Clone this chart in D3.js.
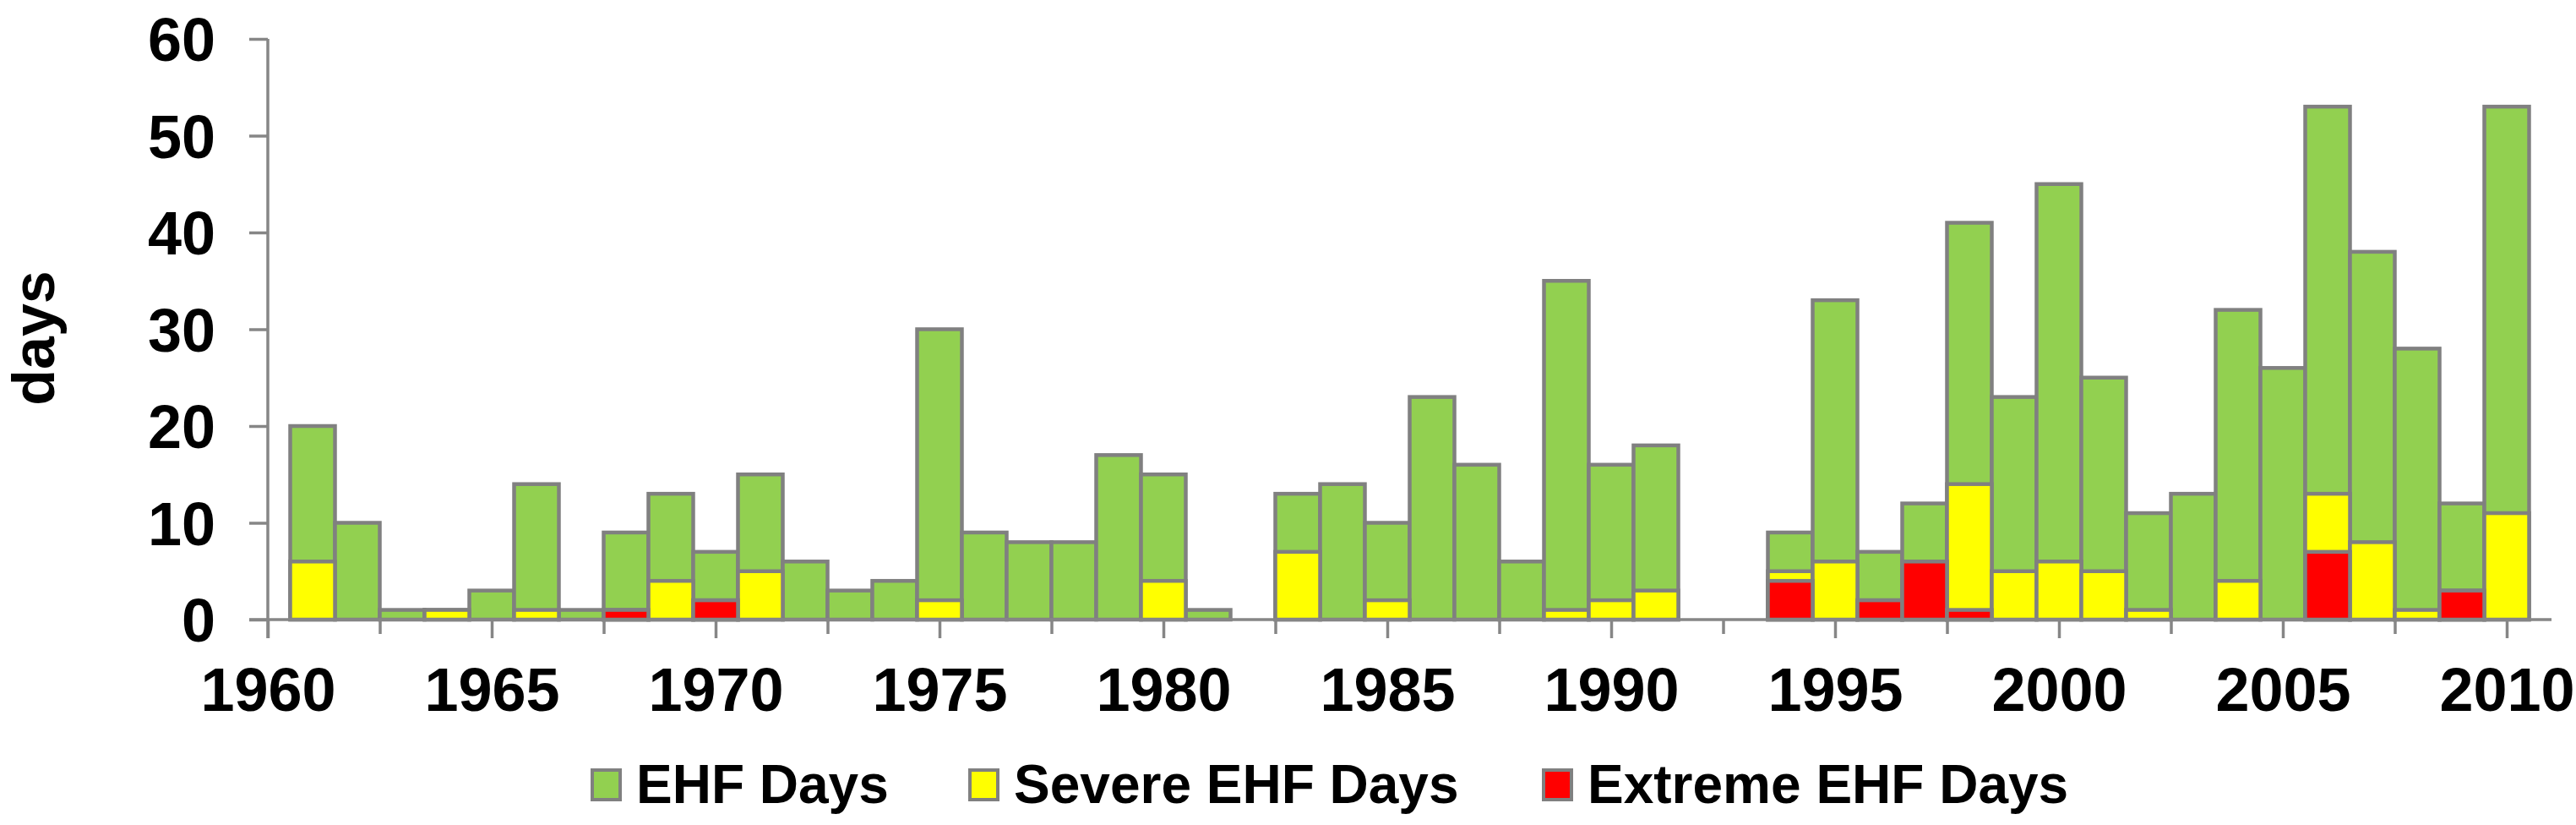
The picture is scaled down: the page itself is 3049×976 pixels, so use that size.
<!DOCTYPE html>
<html>
<head>
<meta charset="utf-8">
<script src="https://cdn.jsdelivr.net/npm/d3@7"></script>
<style>
  html, body { margin: 0; padding: 0; background: #fff; }
  svg text { font-family: "Liberation Sans", Arial, sans-serif; font-weight: bold; fill: #000; }
</style>
</head>
<body>
<svg id="chart" width="3049" height="976"></svg>
<script>
// years with data (1982, 1992 and 1993 have no bars)
const years = [1961, 1962, 1963, 1964, 1965, 1966, 1967, 1968, 1969, 1970,
               1971, 1972, 1973, 1974, 1975, 1976, 1977, 1978, 1979, 1980,
               1981, 1983, 1984, 1985, 1986, 1987, 1988, 1989, 1990, 1991,
               1994, 1995, 1996, 1997, 1998, 1999, 2000, 2001, 2002, 2003,
               2004, 2005, 2006, 2007, 2008, 2009, 2010]
const ehfDays = [20, 10, 1, 1, 3, 14, 1, 9, 13, 7,
                 15, 6, 3, 4, 30, 9, 8, 8, 17, 15,
                 1, 13, 14, 10, 23, 16, 6, 35, 16, 18,
                 9, 33, 7, 12, 41, 23, 45, 25, 11, 13,
                 32, 26, 53, 38, 28, 12, 53]
const severeDays = [6, 0, 0, 1, 0, 1, 0, 1, 4, 2,
                    5, 0, 0, 0, 2, 0, 0, 0, 0, 4,
                    0, 7, 0, 2, 0, 0, 0, 1, 2, 3,
                    5, 6, 2, 6, 14, 5, 6, 5, 1, 0,
                    4, 0, 13, 8, 1, 3, 11]
const extremeDays = [0, 0, 0, 0, 0, 0, 0, 1, 0, 2,
                     0, 0, 0, 0, 0, 0, 0, 0, 0, 0,
                     0, 0, 0, 0, 0, 0, 0, 0, 0, 0,
                     4, 0, 2, 6, 1, 0, 0, 0, 0, 0,
                     0, 0, 7, 0, 0, 3, 0]
const yTicks = [0, 10, 20, 30, 40, 50, 60]
const xMajorTicks = [1960, 1965, 1970, 1975, 1980, 1985, 1990, 1995, 2000, 2005, 2010]
const xMinorTicks = [1962.5, 1967.5, 1972.5, 1977.5, 1982.5, 1987.5, 1992.5, 1997.5, 2002.5, 2007.5]
const seriesNames = ['EHF Days', 'Severe EHF Days', 'Extreme EHF Days']
const seriesColors = ['#92d050', '#ffff00', '#ff0000']

const svg = d3.select('#chart')
const axisGrey = '#868686'
const barStroke = '#808080'

const x = d3.scaleLinear().domain([1960, 2011]).range([317, 3020])
const y = d3.scaleLinear().domain([0, 60]).range([733, 46])

// bars: green total first, then severe, then extreme drawn over it
const seriesValues = [ehfDays, severeDays, extremeDays]
seriesValues.forEach((vals, si) => {
  svg.append('g')
    .selectAll('rect')
    .data(years.map((yr, i) => ({year: yr, v: vals[i]})).filter(d => d.v > 0))
    .join('rect')
      .attr('x', d => x(d.year - 0.5))
      .attr('width', d => x(d.year + 0.5) - x(d.year - 0.5))
      .attr('y', d => y(d.v))
      .attr('height', d => y(0) - y(d.v))
      .style('fill', seriesColors[si])
      .style('stroke', barStroke)
      .style('stroke-width', 4.5)
})

// y axis
const yAxis = svg.append('g')
  .attr('transform', `translate(${x(1960)},0)`)
  .call(d3.axisLeft(y).tickValues(yTicks).tickSize(22).tickPadding(40).tickSizeOuter(0))
yAxis.select('.domain').remove()
yAxis.append('line')
  .attr('x1', 0).attr('x2', 0)
  .attr('y1', y(60)).attr('y2', y(0) + 22)
  .style('stroke', axisGrey).style('stroke-width', 3.5)
yAxis.selectAll('.tick line').style('stroke', axisGrey).style('stroke-width', 3.5)
yAxis.selectAll('.tick text').style('font-size', '72px').attr('dy', '0.36em')

// x axis: minor ticks, then major ticks with labels
const xMinor = svg.append('g')
  .attr('transform', `translate(0,${y(0)})`)
  .call(d3.axisBottom(x).tickValues(xMinorTicks).tickSize(17).tickFormat('').tickSizeOuter(0))
xMinor.select('.domain').remove()
xMinor.selectAll('.tick line').style('stroke', axisGrey).style('stroke-width', 3.5)

const xAxis = svg.append('g')
  .attr('transform', `translate(0,${y(0)})`)
  .call(d3.axisBottom(x).tickValues(xMajorTicks).tickSize(22).tickPadding(35)
          .tickFormat(d3.format('d')).tickSizeOuter(0))
xAxis.select('.domain').remove()
xAxis.append('line')
  .attr('x1', x(1960) - 22).attr('x2', x(2011))
  .attr('y1', 0).attr('y2', 0)
  .style('stroke', axisGrey).style('stroke-width', 3.5)
xAxis.selectAll('.tick line').style('stroke', axisGrey).style('stroke-width', 3.5)
xAxis.selectAll('.tick text').style('font-size', '72px')

// y axis title
svg.append('text')
  .attr('transform', 'translate(64,400) rotate(-90)')
  .attr('text-anchor', 'middle')
  .style('font-size', '70px')
  .text('days')

// legend
const legendX = [701, 1148, 1827]
const legend = svg.append('g')
seriesNames.forEach((name, i) => {
  legend.append('rect')
    .attr('x', legendX[i]).attr('y', 911)
    .attr('width', 33).attr('height', 35)
    .style('fill', seriesColors[i])
    .style('stroke', barStroke)
    .style('stroke-width', 4)
  legend.append('text')
    .attr('x', legendX[i] + 52).attr('y', 950)
    .style('font-size', '64px')
    .text(name)
})
</script>
</body>
</html>
